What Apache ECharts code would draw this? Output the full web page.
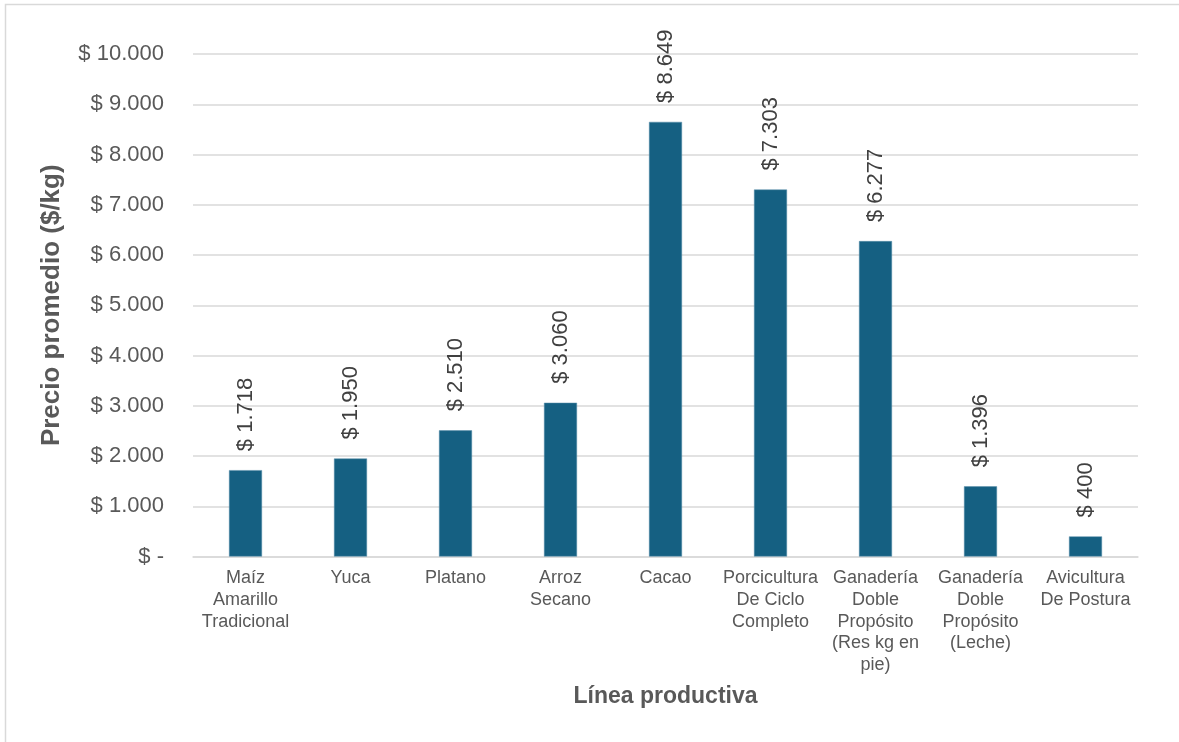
<!DOCTYPE html>
<html>
<head>
<meta charset="utf-8">
<script src="https://cdn.jsdelivr.net/npm/echarts@6/dist/echarts.min.js"></script>
<style>
  html, body { margin: 0; padding: 0; background: #ffffff; }
  #chart { width: 1179px; height: 742px; }
</style>
</head>
<body>
<div id="chart"></div>
<script>
// Production lines (category axis, multi-line labels)
const categories = [
  'Maíz\nAmarillo\nTradicional',
  'Yuca',
  'Platano',
  'Arroz\nSecano',
  'Cacao',
  'Porcicultura\nDe Ciclo\nCompleto',
  'Ganadería\nDoble\nPropósito\n(Res kg en\npie)',
  'Ganadería\nDoble\nPropósito\n(Leche)',
  'Avicultura\nDe Postura'
];

// Average price per kg
const prices = [1718, 1950, 2510, 3060, 8649, 7303, 6277, 1396, 400];

// Value axis range
const yMin = 0;
const yMax = 10000;
const yStep = 1000;

const FONT = 'Liberation Sans, Arial, sans-serif';

// Peso format with dot thousands separator; zero shown as a dash
function peso(v) {
  if (v === 0) return '$ -';
  return '$ ' + String(Math.round(v)).replace(/\B(?=(\d{3})+(?!\d))/g, '.');
}

const chart = echarts.init(document.getElementById('chart'), null, { renderer: 'canvas' });

chart.setOption({
  backgroundColor: '#ffffff',
  animation: false,
  textStyle: { fontFamily: FONT },
  grid: { left: 193, right: 41, top: 54, bottom: 185.5, containLabel: false },
  graphic: [
    {
      type: 'rect',
      silent: true,
      shape: { x: 5.5, y: 4.5, width: 1300, height: 900 },
      style: { fill: 'none', stroke: '#d9d9d9', lineWidth: 1.5 }
    }
  ],
  xAxis: {
    type: 'category',
    data: categories,
    name: 'Línea productiva',
    nameLocation: 'middle',
    nameGap: 129,
    nameTextStyle: { fontFamily: FONT, fontSize: 23, fontWeight: 'bold', color: '#595959' },
    axisLine: { lineStyle: { color: '#d9d9d9', width: 1.5 } },
    axisTick: { show: false },
    axisLabel: {
      interval: 0,
      margin: 11,
      fontFamily: FONT,
      fontSize: 18,
      lineHeight: 21.7,
      color: '#595959',
      align: 'center'
    }
  },
  yAxis: {
    type: 'value',
    min: yMin,
    max: yMax,
    interval: yStep,
    name: 'Precio promedio ($/kg)',
    nameLocation: 'middle',
    nameRotate: 90,
    nameGap: 128,
    nameTextStyle: { fontFamily: FONT, fontSize: 26, fontWeight: 'bold', color: '#595959' },
    axisLine: { show: false },
    axisTick: { show: false },
    splitLine: { lineStyle: { color: '#d9d9d9', width: 1.5 } },
    axisLabel: {
      margin: 29,
      fontFamily: FONT,
      fontSize: 22,
      color: '#595959',
      formatter: peso
    }
  },
  series: [
    {
      type: 'bar',
      data: prices,
      barWidth: 33,
      itemStyle: { color: '#156082', borderColor: '#5b8fab', borderWidth: 0.5 },
      label: {
        show: true,
        position: 'top',
        rotate: 90,
        align: 'left',
        verticalAlign: 'middle',
        distance: 19,
        fontFamily: FONT,
        fontSize: 22,
        color: '#404040',
        formatter: p => peso(p.value)
      }
    }
  ]
});
</script>
</body>
</html>
